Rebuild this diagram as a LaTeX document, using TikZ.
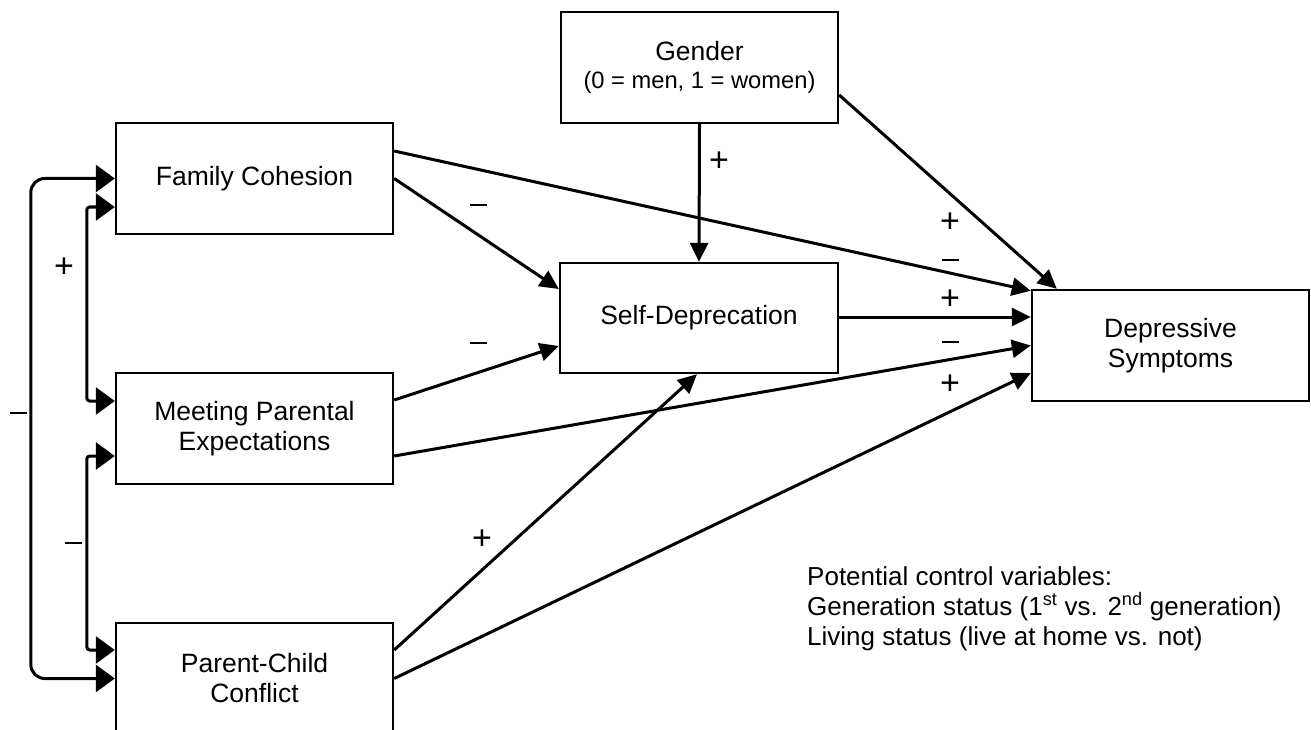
\documentclass[tikz,border=0pt]{standalone}
\usepackage{fontspec}
\setmainfont{Liberation Sans}
\usetikzlibrary{arrows.meta,calc}
\begin{document}
\begin{tikzpicture}[x=1pt,y=-1pt,
  box/.style={draw, line width=2.4pt, minimum width=277pt, minimum height=111pt, inner sep=0pt, align=center, font=\fontsize{26.5}{30}\selectfont},
  arr/.style={line width=3pt, -{Triangle[length=19pt,width=18pt]}},
  brk/.style={line width=3pt, {Triangle[length=19pt,width=27pt]}-{Triangle[length=19pt,width=27pt]}},
  sgn/.style={font=\fontsize{34}{34}\selectfont, inner sep=0pt},
  mns/.style={inner sep=0pt},
  cv/.style={font=\fontsize{26}{30}\selectfont, inner sep=0pt, anchor=base west}]
\useasboundingbox (0,0) rectangle (1311,730);
\clip (0,0) rectangle (1311,730);
\newcommand{\mysign}{\rule[0pt]{17pt}{2.8pt}}
\node[box] (gender) at (699.5,67.5) {Gender\\[-2pt]{\fontsize{23.7}{28}\selectfont (0 = men, 1 = women)}};
\node[box] (fc) at (254.5,178.5) {Family Cohesion};
\node[box] (mpe) at (254.5,428.5) {Meeting Parental\\Expectations};
\node[box] (pcc) at (254.5,678.5) {Parent-Child\\Conflict};
\node[box, minimum width=278pt, minimum height=110pt] (sd) at (699,318) {Self-Deprecation};
\node[box] (ds) at (1170.5,345.5) {Depressive\\Symptoms};
% left brackets
\draw[brk, rounded corners=14pt] (fc.west) -- ++(-84,0) |- (pcc.west);
\draw[brk, rounded corners=3pt] ($(fc.west)+(0,28.5)$) -- ++(-28,0) |- ($(mpe.west)+(0,-27.5)$);
\draw[brk, rounded corners=3pt] ($(mpe.west)+(0,27.5)$) -- ++(-28,0) |- ($(pcc.west)+(0,-28.5)$);
% main paths
\draw[arr] (gender.south) -- (sd.north);
\draw[arr] (fc.east) -- ($(sd.west)+(0,-29)$);
\draw[arr] ($(mpe.east)+(0,-28.5)$) -- ($(sd.west)+(0,28)$);
\draw[arr] ($(pcc.east)+(0,-28.5)$) -- ($(sd.south)+(-2,0)$);
\draw[arr] ($(fc.east)+(0,-27.5)$) -- ($(ds.north west)+(0,2)$);
\draw[arr] ($(gender.east)+(0,27.5)$) -- ($(ds.north west)+(26,0)$);
\draw[arr] (sd.east |- 0,317) -- (ds.west |- 0,317);
\draw[arr] ($(mpe.east)+(0,27.5)$) -- (ds.west);
\draw[arr] (pcc.east) -- ($(ds.west)+(0,27.5)$);
% signs
\node[sgn] (s1) at (719,162) {+};
\node[mns] (s2) at (478,205) {\mysign};
\node[mns] (s3) at (478,343) {\mysign};
\node[sgn] (s4) at (482,540) {+};
\node[sgn] (s5) at (950,223) {+};
\node[mns] (s6) at (950,260) {\mysign};
\node[sgn] (s7) at (950,300) {+};
\node[mns] (s8) at (950,342) {\mysign};
\node[sgn] (s9) at (950,385) {+};
\node[sgn] (s10) at (64,268) {+};
\node[mns] (s11) at (73,543) {\mysign};
\node[mns] (s12) at (18,413) {\mysign};
% control variables
\node[cv] (cv1) at (807,585) {Potential control variables:};
\node[cv] (cv2) at (807,615) {Generation status (1\textsuperscript{st} vs. 2\textsuperscript{nd} generation)};
\node[cv] (cv3) at (807,645) {Living status (live at home vs. not)};
\end{tikzpicture}
\end{document}
